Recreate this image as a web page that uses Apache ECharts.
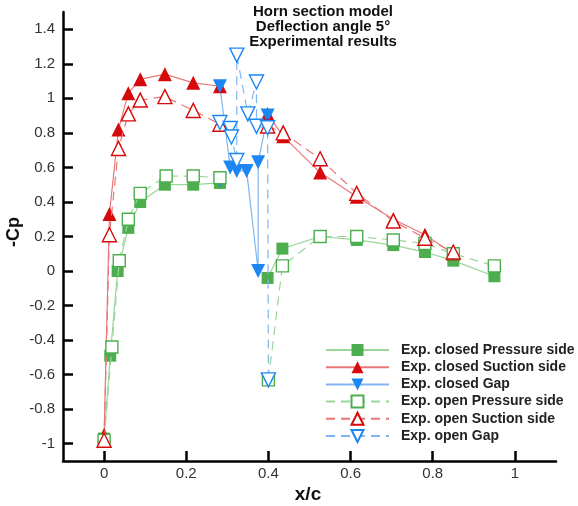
<!DOCTYPE html>
<html>
<head>
<meta charset="utf-8">
<script src="https://cdn.jsdelivr.net/npm/echarts@6/dist/echarts.min.js"></script>
<style>html,body{margin:0;padding:0;background:#fff}#c{width:578px;height:506px}</style>
</head>
<body>
<div id="c"></div>
<script>
// ---- data (null = break in the line) ----
const closedPressX = [0, 0.015, 0.033, 0.059, 0.088, 0.148, 0.217, 0.282, null, 0.398, 0.434, 0.526, 0.615, 0.704, 0.781, 0.85, 0.95];
const closedPressY = [-0.97, -0.49, 0.0, 0.25, 0.40, 0.50, 0.50, 0.51, null, -0.04, 0.13, 0.20, 0.18, 0.15, 0.11, 0.06, -0.03];

const closedSuctX = [0, 0.013, 0.035, 0.059, 0.088, 0.148, 0.217, 0.282, null, 0.398, 0.436, 0.526, 0.615, 0.704, 0.781, 0.85];
const closedSuctY = [-0.95, 0.33, 0.82, 1.03, 1.11, 1.14, 1.09, 1.07, null, 0.91, 0.78, 0.57, 0.43, 0.30, 0.21, 0.10];

const closedGapX = [0.282, null, 0.282, 0.307, 0.323, 0.347, 0.375, 0.375, 0.398];
const closedGapY = [0.525, null, 1.07, 0.60, 0.58, 0.58, 0.0, 0.63, 0.90];

const openPressX = [0, 0.019, 0.037, 0.059, 0.088, 0.151, 0.217, 0.282, null, 0.40, 0.434, 0.526, 0.615, 0.704, 0.781, 0.85, 0.95];
const openPressY = [-0.98, -0.44, 0.06, 0.30, 0.45, 0.55, 0.55, 0.54, null, -0.63, 0.03, 0.20, 0.20, 0.18, 0.16, 0.10, 0.03];

const openSuctX = [0, 0.013, 0.035, 0.059, 0.088, 0.148, 0.217, 0.282, null, 0.398, 0.436, 0.526, 0.615, 0.704, 0.781, 0.85];
const openSuctY = [-0.98, 0.21, 0.71, 0.91, 0.99, 1.01, 0.93, 0.85, null, 0.84, 0.80, 0.65, 0.45, 0.29, 0.19, 0.11];

const openGapX = [0.282, 0.307, 0.31, 0.323, 0.323, 0.35, 0.371, 0.371, 0.398, 0.40];
const openGapY = [0.86, 0.825, 0.776, 0.64, 1.25, 0.91, 1.095, 0.838, 0.83, -0.63];

const yTicks = [-1, -0.8, -0.6, -0.4, -0.2, 0, 0.2, 0.4, 0.6, 0.8, 1, 1.2, 1.4];
const xTicks = [0, 0.2, 0.4, 0.6, 0.8, 1];

const titleLines = ['Horn section model', 'Deflection angle 5°', 'Experimental results'];
const names = ['Exp. closed Pressure side', 'Exp. closed Suction side', 'Exp. closed Gap',
               'Exp. open Pressure side', 'Exp. open Suction side', 'Exp. open Gap'];

function pairs(xs, ys) {
  return xs.map((x, i) => (x === null || ys[i] === null) ? '-' : [x, ys[i]]);
}
const fmt = v => String(parseFloat(Number(v).toFixed(2)));

const GREEN = '#4cae4f', GREEN_L = '#9ad69a';
const RED = '#d60a0a', RED_L = '#e87878';
const BLUE = '#1c86f2', BLUE_L = '#7fb6ef';

function ser(name, xs, ys, o) {
  return {
    name: name, type: 'line', data: pairs(xs, ys),
    symbol: o.symbol, symbolSize: o.size, symbolRotate: o.rot || 0,
    showAllSymbol: true, connectNulls: false,
    lineStyle: { color: o.line, width: 1.2, type: o.dashed ? [9, 6] : 'solid' },
    itemStyle: o.hollow ? { color: '#fff', borderColor: o.color, borderWidth: 1.4 }
                        : { color: o.color, borderColor: o.color, borderWidth: 0 },
    emphasis: { disabled: true }, animation: false, z: o.z
  };
}

const chart = echarts.init(document.getElementById('c'), null, { renderer: 'canvas' });
chart.setOption({
  animation: false,
  grid: { left: 63, right: 22, top: 12, bottom: 45, containLabel: false },
  xAxis: {
    type: 'value', min: -0.1, max: 1.1,
    axisLine: { onZero: false, lineStyle: { color: '#000', width: 2.5 } },
    axisTick: { inside: true, length: 10, customValues: xTicks, lineStyle: { color: '#000', width: 2.5 } },
    axisLabel: { customValues: xTicks, formatter: fmt, color: '#333', fontSize: 15, margin: 5,
                 fontFamily: 'Liberation Sans, Arial, sans-serif' },
    splitLine: { show: false }
  },
  yAxis: {
    type: 'value', min: -1.1, max: 1.5,
    axisLine: { show: true, onZero: false, lineStyle: { color: '#000', width: 2.5 } },
    axisTick: { show: true, inside: true, length: 10, customValues: yTicks, lineStyle: { color: '#000', width: 2.5 } },
    axisLabel: { customValues: yTicks, formatter: fmt, color: '#333', fontSize: 15, margin: 8,
                 fontFamily: 'Liberation Sans, Arial, sans-serif' },
    splitLine: { show: false }
  },
  legend: {
    orient: 'vertical', left: 320, top: 338,
    itemWidth: 63, itemHeight: 15, itemGap: 3.2,
    textStyle: { fontSize: 14, fontWeight: 'bold', color: '#222', padding: [0, 0, 0, 7],
                 fontFamily: 'Liberation Sans, Arial, sans-serif' },
    data: names
  },
  series: [
    ser(names[0], closedPressX, closedPressY, { symbol: 'rect', size: 12, color: GREEN, line: GREEN_L, z: 2 }),
    ser(names[1], closedSuctX, closedSuctY, { symbol: 'triangle', size: 14, color: RED, line: RED_L, z: 2 }),
    ser(names[2], closedGapX, closedGapY, { symbol: 'triangle', size: 14, rot: 180, color: BLUE, line: BLUE_L, z: 2 }),
    ser(names[3], openPressX, openPressY, { symbol: 'rect', size: 12, color: GREEN, line: GREEN_L, hollow: true, dashed: true, z: 3 }),
    ser(names[4], openSuctX, openSuctY, { symbol: 'triangle', size: 14, color: RED, line: RED_L, hollow: true, dashed: true, z: 3 }),
    ser(names[5], openGapX, openGapY, { symbol: 'triangle', size: 14, rot: 180, color: BLUE, line: BLUE_L, hollow: true, dashed: true, z: 3 })
  ],
  graphic: [
    { type: 'text', x: 323, y: 4, style: { text: titleLines.join('\n'),
      font: 'bold 15px "Liberation Sans", Arial, sans-serif', fill: '#111', align: 'center', verticalAlign: 'top', lineHeight: 15 } },
    { type: 'text', x: 308, y: 495, style: { text: 'x/c', font: 'bold 19px "Liberation Sans", Arial, sans-serif',
      fill: '#111', align: 'center', verticalAlign: 'middle' } },
    { type: 'text', x: 14, y: 232, rotation: Math.PI / 2, style: { text: '-Cp', font: 'bold 18px "Liberation Sans", Arial, sans-serif',
      fill: '#111', align: 'center', verticalAlign: 'middle' } }
  ]
});
</script>
</body>
</html>
